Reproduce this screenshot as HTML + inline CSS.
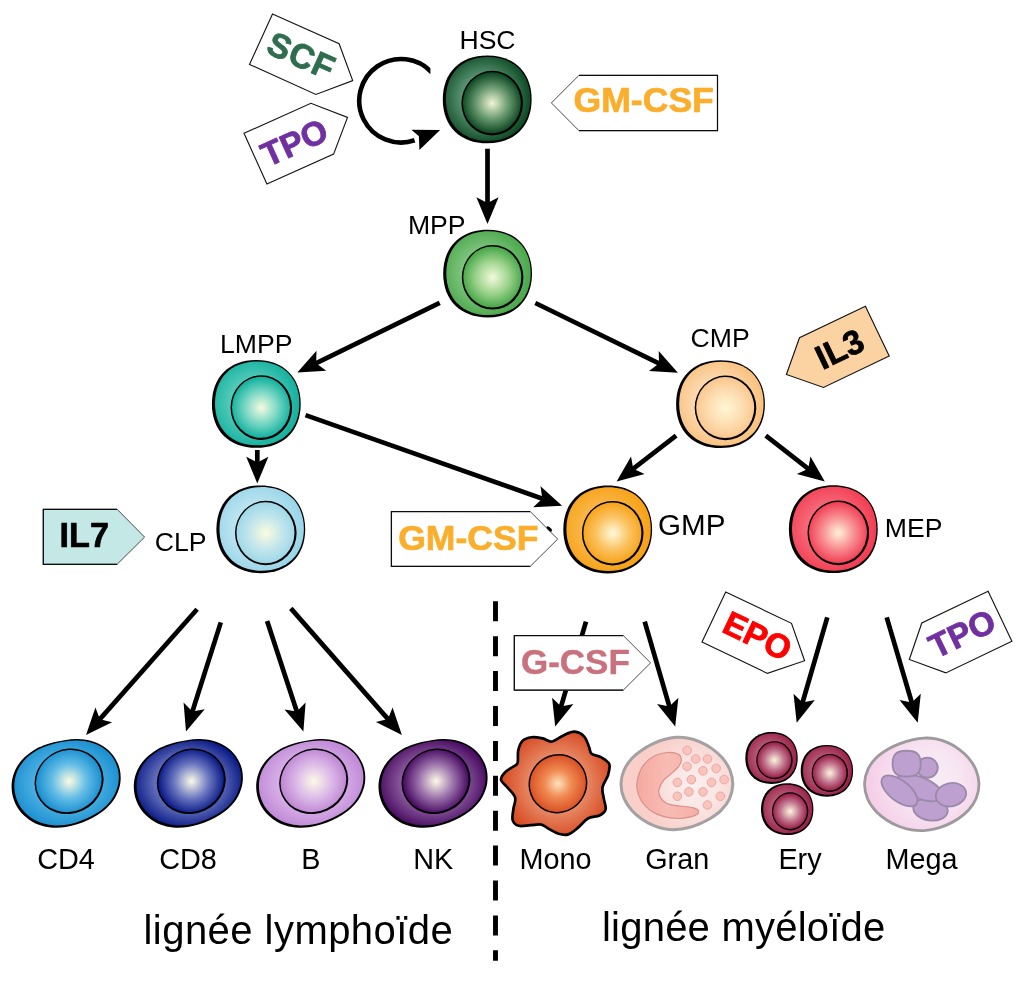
<!DOCTYPE html>
<html><head><meta charset="utf-8"><title>Hematopoiesis</title>
<style>
html,body{margin:0;padding:0;background:#fff;}
svg{display:block;will-change:transform;}
text{font-family:"Liberation Sans",sans-serif;}
</style></head><body>
<svg width="1035" height="982" viewBox="0 0 1035 982">
<defs>
<clipPath id="loopclip"><rect x="340" y="40" width="90.4" height="130"/></clipPath>
<radialGradient id="co1" gradientUnits="userSpaceOnUse" cx="-3" cy="-1.5" r="46"><stop offset="0" stop-color="#629c7c"/><stop offset="0.42" stop-color="#629c7c"/><stop offset="1" stop-color="#0e4a24"/></radialGradient>
<radialGradient id="cn1" gradientUnits="userSpaceOnUse" cx="5" cy="3.7" r="32"><stop offset="0" stop-color="#f0f5d5"/><stop offset="0.5" stop-color="#6a9a70"/><stop offset="0.93" stop-color="#0f4a25"/></radialGradient>
<radialGradient id="co2" gradientUnits="userSpaceOnUse" cx="-3" cy="-1.5" r="46"><stop offset="0" stop-color="#84c784"/><stop offset="0.42" stop-color="#84c784"/><stop offset="1" stop-color="#4aa84a"/></radialGradient>
<radialGradient id="cn2" gradientUnits="userSpaceOnUse" cx="5" cy="3.7" r="32"><stop offset="0" stop-color="#f3fadc"/><stop offset="0.5" stop-color="#9fd48f"/><stop offset="0.93" stop-color="#4aa84a"/></radialGradient>
<radialGradient id="co3" gradientUnits="userSpaceOnUse" cx="-3" cy="-1.5" r="46"><stop offset="0" stop-color="#5ccfbe"/><stop offset="0.42" stop-color="#5ccfbe"/><stop offset="1" stop-color="#14b09e"/></radialGradient>
<radialGradient id="cn3" gradientUnits="userSpaceOnUse" cx="5" cy="3.7" r="32"><stop offset="0" stop-color="#f6fbe0"/><stop offset="0.5" stop-color="#7ad8c4"/><stop offset="0.93" stop-color="#16b2a0"/></radialGradient>
<radialGradient id="co4" gradientUnits="userSpaceOnUse" cx="-3" cy="-1.5" r="46"><stop offset="0" stop-color="#fddcb8"/><stop offset="0.42" stop-color="#fddcb8"/><stop offset="1" stop-color="#f9c07c"/></radialGradient>
<radialGradient id="cn4" gradientUnits="userSpaceOnUse" cx="5" cy="3.7" r="32"><stop offset="0" stop-color="#fff6d4"/><stop offset="0.5" stop-color="#fddfb4"/><stop offset="0.93" stop-color="#fbc890"/></radialGradient>
<radialGradient id="co5" gradientUnits="userSpaceOnUse" cx="-3" cy="-1.5" r="46"><stop offset="0" stop-color="#c2e7f1"/><stop offset="0.42" stop-color="#c2e7f1"/><stop offset="1" stop-color="#98d5e9"/></radialGradient>
<radialGradient id="cn5" gradientUnits="userSpaceOnUse" cx="5" cy="3.7" r="32"><stop offset="0" stop-color="#fbfbde"/><stop offset="0.5" stop-color="#c4e7ec"/><stop offset="0.93" stop-color="#9fd8e8"/></radialGradient>
<radialGradient id="co6" gradientUnits="userSpaceOnUse" cx="-3" cy="-1.5" r="46"><stop offset="0" stop-color="#fbba50"/><stop offset="0.42" stop-color="#fbba50"/><stop offset="1" stop-color="#f6a014"/></radialGradient>
<radialGradient id="cn6" gradientUnits="userSpaceOnUse" cx="5" cy="3.7" r="32"><stop offset="0" stop-color="#fffadc"/><stop offset="0.5" stop-color="#fbc466"/><stop offset="0.93" stop-color="#f7a51c"/></radialGradient>
<radialGradient id="co7" gradientUnits="userSpaceOnUse" cx="-3" cy="-1.5" r="46"><stop offset="0" stop-color="#f7707e"/><stop offset="0.42" stop-color="#f7707e"/><stop offset="1" stop-color="#f23c52"/></radialGradient>
<radialGradient id="cn7" gradientUnits="userSpaceOnUse" cx="5" cy="3.7" r="32"><stop offset="0" stop-color="#fff2da"/><stop offset="0.5" stop-color="#f88e92"/><stop offset="0.93" stop-color="#f24358"/></radialGradient>
<radialGradient id="lo1" gradientUnits="userSpaceOnUse" cx="65.9" cy="783.2" r="56" gradientTransform="translate(65.9 783.2) scale(1 0.82) translate(-65.9 -783.2)"><stop offset="0" stop-color="#4cb0e2"/><stop offset="0.55" stop-color="#4cb0e2"/><stop offset="1" stop-color="#1a8fd0"/></radialGradient>
<radialGradient id="ln1" gradientUnits="userSpaceOnUse" cx="69.1" cy="781.3" r="35"><stop offset="0" stop-color="#fcfce0"/><stop offset="0.5" stop-color="#62bce6"/><stop offset="0.94" stop-color="#1a8fd0"/></radialGradient>
<radialGradient id="lo2" gradientUnits="userSpaceOnUse" cx="188.1" cy="783.2" r="56" gradientTransform="translate(188.1 783.2) scale(1 0.82) translate(-188.1 -783.2)"><stop offset="0" stop-color="#6874be"/><stop offset="0.55" stop-color="#6874be"/><stop offset="1" stop-color="#0a1a86"/></radialGradient>
<radialGradient id="ln2" gradientUnits="userSpaceOnUse" cx="191.3" cy="781.3" r="35"><stop offset="0" stop-color="#fcfce8"/><stop offset="0.5" stop-color="#6a76c0"/><stop offset="0.94" stop-color="#0a1a86"/></radialGradient>
<radialGradient id="lo3" gradientUnits="userSpaceOnUse" cx="310.5" cy="783.2" r="56" gradientTransform="translate(310.5 783.2) scale(1 0.82) translate(-310.5 -783.2)"><stop offset="0" stop-color="#d8b0e8"/><stop offset="0.55" stop-color="#d8b0e8"/><stop offset="1" stop-color="#bf88d6"/></radialGradient>
<radialGradient id="ln3" gradientUnits="userSpaceOnUse" cx="313.7" cy="781.3" r="35"><stop offset="0" stop-color="#fdfae6"/><stop offset="0.5" stop-color="#dcbae8"/><stop offset="0.94" stop-color="#bf86d4"/></radialGradient>
<radialGradient id="lo4" gradientUnits="userSpaceOnUse" cx="432.8" cy="783.2" r="56" gradientTransform="translate(432.8 783.2) scale(1 0.82) translate(-432.8 -783.2)"><stop offset="0" stop-color="#8c5c9e"/><stop offset="0.55" stop-color="#8c5c9e"/><stop offset="1" stop-color="#470a60"/></radialGradient>
<radialGradient id="ln4" gradientUnits="userSpaceOnUse" cx="436" cy="781.3" r="35"><stop offset="0" stop-color="#fdfae8"/><stop offset="0.5" stop-color="#9a70aa"/><stop offset="0.94" stop-color="#470a60"/></radialGradient>
<radialGradient id="mo" gradientUnits="userSpaceOnUse" cx="557.94" cy="783.66" r="56"><stop offset="0" stop-color="#f2a886"/><stop offset="0.5" stop-color="#e88a66"/><stop offset="1" stop-color="#d64a22"/></radialGradient>
<radialGradient id="mn" gradientUnits="userSpaceOnUse" cx="557.94" cy="783.66" r="30"><stop offset="0" stop-color="#fde2bc"/><stop offset="0.45" stop-color="#f08a52"/><stop offset="1" stop-color="#d84c22"/></radialGradient>
<filter id="soft" x="-10%" y="-10%" width="120%" height="120%"><feGaussianBlur stdDeviation="0.55"/></filter>
<radialGradient id="gro" gradientUnits="userSpaceOnUse" cx="694" cy="786" r="52"><stop offset="0" stop-color="#f9f0ef"/><stop offset="0.45" stop-color="#f9e6e4"/><stop offset="1" stop-color="#f9cfca"/></radialGradient>
<linearGradient id="grn" x1="0" y1="0" x2="1" y2="0"><stop offset="0" stop-color="#f5a9a0"/><stop offset="0.5" stop-color="#f8bcb4"/><stop offset="1" stop-color="#f6aea6"/></linearGradient>
<radialGradient id="co8" gradientUnits="userSpaceOnUse" cx="-3" cy="-1.5" r="46"><stop offset="0" stop-color="#b8607a"/><stop offset="0.42" stop-color="#b8607a"/><stop offset="1" stop-color="#9a1f48"/></radialGradient>
<radialGradient id="cn8" gradientUnits="userSpaceOnUse" cx="5" cy="3.7" r="32"><stop offset="0" stop-color="#fdf6e0"/><stop offset="0.5" stop-color="#c27890"/><stop offset="0.93" stop-color="#9a1f48"/></radialGradient>
<radialGradient id="co9" gradientUnits="userSpaceOnUse" cx="-3" cy="-1.5" r="46"><stop offset="0" stop-color="#b8607a"/><stop offset="0.42" stop-color="#b8607a"/><stop offset="1" stop-color="#9a1f48"/></radialGradient>
<radialGradient id="cn9" gradientUnits="userSpaceOnUse" cx="5" cy="3.7" r="32"><stop offset="0" stop-color="#fdf6e0"/><stop offset="0.5" stop-color="#c27890"/><stop offset="0.93" stop-color="#9a1f48"/></radialGradient>
<radialGradient id="co10" gradientUnits="userSpaceOnUse" cx="-3" cy="-1.5" r="46"><stop offset="0" stop-color="#b8607a"/><stop offset="0.42" stop-color="#b8607a"/><stop offset="1" stop-color="#9a1f48"/></radialGradient>
<radialGradient id="cn10" gradientUnits="userSpaceOnUse" cx="5" cy="3.7" r="32"><stop offset="0" stop-color="#fdf6e0"/><stop offset="0.5" stop-color="#c27890"/><stop offset="0.93" stop-color="#9a1f48"/></radialGradient>
<radialGradient id="mgo" gradientUnits="userSpaceOnUse" cx="930" cy="780" r="60"><stop offset="0" stop-color="#f8eef6"/><stop offset="0.5" stop-color="#f7e6f2"/><stop offset="1" stop-color="#f5cfe8"/></radialGradient>
</defs>
<g id="arrows"><line x1="487.5" y1="148.7" x2="487.5" y2="204.1" stroke="#000" stroke-width="4.7"/><polygon points="487.5,224.1 476.4,197.3 487.5,203.1 498.6,197.3" fill="#000"/><line x1="439.7" y1="302.8" x2="315.26" y2="363.71" stroke="#000" stroke-width="4.7"/><polygon points="297.3,372.5 316.49,350.75 316.16,363.27 326.25,370.69" fill="#000"/><line x1="535.3" y1="303" x2="659.93" y2="363.92" stroke="#000" stroke-width="4.7"/><polygon points="677.9,372.7 648.95,370.9 659.03,363.48 658.7,350.96" fill="#000"/><line x1="257.3" y1="450" x2="257.3" y2="463.5" stroke="#000" stroke-width="4.7"/><polygon points="257.3,483.5 246.2,456.7 257.3,462.5 268.4,456.7" fill="#000"/><line x1="305.5" y1="415.1" x2="543.24" y2="499.04" stroke="#000" stroke-width="4.7"/><polygon points="562.1,505.7 533.13,507.24 542.3,498.71 540.52,486.31" fill="#000"/><line x1="676.1" y1="435.7" x2="632.44" y2="469.38" stroke="#000" stroke-width="4.7"/><polygon points="616.6,481.6 631.04,456.44 633.23,468.77 644.6,474.02" fill="#000"/><line x1="765.8" y1="435.7" x2="809.01" y2="469.32" stroke="#000" stroke-width="4.7"/><polygon points="824.8,481.6 796.83,473.9 808.23,468.71 810.46,456.38" fill="#000"/><line x1="197.1" y1="609.3" x2="99.25" y2="719.92" stroke="#000" stroke-width="4.7"/><polygon points="86,734.9 95.44,707.47 99.91,719.17 112.07,722.18" fill="#000"/><line x1="220.8" y1="622.4" x2="192.08" y2="712.45" stroke="#000" stroke-width="4.7"/><polygon points="186,731.5 183.57,702.59 192.38,711.49 204.72,709.34" fill="#000"/><line x1="267.1" y1="620.9" x2="297.16" y2="712.5" stroke="#000" stroke-width="4.7"/><polygon points="303.4,731.5 284.5,709.5 296.85,711.55 305.59,702.57" fill="#000"/><line x1="290.8" y1="608.4" x2="388.7" y2="719.87" stroke="#000" stroke-width="4.7"/><polygon points="401.9,734.9 375.87,722.09 388.04,719.12 392.56,707.44" fill="#000"/><line x1="586" y1="621.7" x2="560.83" y2="707.41" stroke="#000" stroke-width="4.7"/><polygon points="555.2,726.6 552.1,697.76 561.12,706.45 573.4,704.01" fill="#000"/><line x1="644.7" y1="621.7" x2="669.62" y2="707.4" stroke="#000" stroke-width="4.7"/><polygon points="675.2,726.6 657.06,703.96 669.34,706.44 678.38,697.77" fill="#000"/><line x1="827.3" y1="617.3" x2="802.28" y2="703.49" stroke="#000" stroke-width="4.7"/><polygon points="796.7,722.7 793.51,693.87 802.56,702.53 814.83,700.06" fill="#000"/><line x1="886.7" y1="617.3" x2="912.06" y2="703.51" stroke="#000" stroke-width="4.7"/><polygon points="917.7,722.7 899.49,700.12 911.77,702.55 920.79,693.86" fill="#000"/></g>
<path d="M432.1,72.8 A41.8,41.8 0 1 0 414.6,140.3" fill="none" stroke="#000" stroke-width="4.6" clip-path="url(#loopclip)"/>
<polygon points="440.1,130.1 411.4,129.7 418.9,136.2 419.4,150" fill="#000"/>
<line x1="495.5" y1="601.3" x2="495.5" y2="960.7" stroke="#000" stroke-width="4.9" stroke-dasharray="20 14.9"/>
<g id="cells"><g transform="translate(487.2 99.4)"><path d="M0,-43.9 C27.08,-43.9 44.4,-26.78 44.4,0 C44.4,26.78 27.08,43.9 0,43.9 C-27.08,43.9 -44.4,26.78 -44.4,0 C-44.4,-26.78 -27.08,-43.9 0,-43.9Z" fill="#000"/><path d="M0.9,-42.35 C26.64,-42.35 43.1,-26.01 43.1,-0.45 C43.1,25.11 26.64,41.45 0.9,41.45 C-24.84,41.45 -41.3,25.11 -41.3,-0.45 C-41.3,-26.01 -24.84,-42.35 0.9,-42.35Z" fill="url(#co1)"/><ellipse cx="5" cy="3.7" rx="30.8" ry="32.3" fill="#000"/><ellipse cx="4.7" cy="3.4" rx="29" ry="30.5" fill="url(#cn1)"/></g><g transform="translate(487.6 273.6)"><path d="M0,-43.9 C27.08,-43.9 44.4,-26.78 44.4,0 C44.4,26.78 27.08,43.9 0,43.9 C-27.08,43.9 -44.4,26.78 -44.4,0 C-44.4,-26.78 -27.08,-43.9 0,-43.9Z" fill="#000"/><path d="M0.9,-42.35 C26.64,-42.35 43.1,-26.01 43.1,-0.45 C43.1,25.11 26.64,41.45 0.9,41.45 C-24.84,41.45 -41.3,25.11 -41.3,-0.45 C-41.3,-26.01 -24.84,-42.35 0.9,-42.35Z" fill="url(#co2)"/><ellipse cx="5" cy="3.7" rx="30.8" ry="32.3" fill="#000"/><ellipse cx="4.7" cy="3.4" rx="29" ry="30.5" fill="url(#cn2)"/></g><g transform="translate(256.3 403.9)"><path d="M0,-43.9 C27.08,-43.9 44.4,-26.78 44.4,0 C44.4,26.78 27.08,43.9 0,43.9 C-27.08,43.9 -44.4,26.78 -44.4,0 C-44.4,-26.78 -27.08,-43.9 0,-43.9Z" fill="#000"/><path d="M0.9,-42.35 C26.64,-42.35 43.1,-26.01 43.1,-0.45 C43.1,25.11 26.64,41.45 0.9,41.45 C-24.84,41.45 -41.3,25.11 -41.3,-0.45 C-41.3,-26.01 -24.84,-42.35 0.9,-42.35Z" fill="url(#co3)"/><ellipse cx="5" cy="3.7" rx="30.8" ry="32.3" fill="#000"/><ellipse cx="4.7" cy="3.4" rx="29" ry="30.5" fill="url(#cn3)"/></g><g transform="translate(720.5 404.2)"><path d="M0,-43.9 C27.08,-43.9 44.4,-26.78 44.4,0 C44.4,26.78 27.08,43.9 0,43.9 C-27.08,43.9 -44.4,26.78 -44.4,0 C-44.4,-26.78 -27.08,-43.9 0,-43.9Z" fill="#000"/><path d="M0.9,-42.35 C26.64,-42.35 43.1,-26.01 43.1,-0.45 C43.1,25.11 26.64,41.45 0.9,41.45 C-24.84,41.45 -41.3,25.11 -41.3,-0.45 C-41.3,-26.01 -24.84,-42.35 0.9,-42.35Z" fill="url(#co4)"/><ellipse cx="5" cy="3.7" rx="30.8" ry="32.3" fill="#000"/><ellipse cx="4.7" cy="3.4" rx="29" ry="30.5" fill="url(#cn4)"/></g><g transform="translate(260.8 529.3)"><path d="M0,-43.9 C27.08,-43.9 44.4,-26.78 44.4,0 C44.4,26.78 27.08,43.9 0,43.9 C-27.08,43.9 -44.4,26.78 -44.4,0 C-44.4,-26.78 -27.08,-43.9 0,-43.9Z" fill="#000"/><path d="M0.9,-42.35 C26.64,-42.35 43.1,-26.01 43.1,-0.45 C43.1,25.11 26.64,41.45 0.9,41.45 C-24.84,41.45 -41.3,25.11 -41.3,-0.45 C-41.3,-26.01 -24.84,-42.35 0.9,-42.35Z" fill="url(#co5)"/><ellipse cx="5" cy="3.7" rx="30.8" ry="32.3" fill="#000"/><ellipse cx="4.7" cy="3.4" rx="29" ry="30.5" fill="url(#cn5)"/></g><g transform="translate(607.7 529.5)"><path d="M0,-43.9 C27.08,-43.9 44.4,-26.78 44.4,0 C44.4,26.78 27.08,43.9 0,43.9 C-27.08,43.9 -44.4,26.78 -44.4,0 C-44.4,-26.78 -27.08,-43.9 0,-43.9Z" fill="#000"/><path d="M0.9,-42.35 C26.64,-42.35 43.1,-26.01 43.1,-0.45 C43.1,25.11 26.64,41.45 0.9,41.45 C-24.84,41.45 -41.3,25.11 -41.3,-0.45 C-41.3,-26.01 -24.84,-42.35 0.9,-42.35Z" fill="url(#co6)"/><ellipse cx="5" cy="3.7" rx="30.8" ry="32.3" fill="#000"/><ellipse cx="4.7" cy="3.4" rx="29" ry="30.5" fill="url(#cn6)"/></g><g transform="translate(833.3 529.2)"><path d="M0,-43.9 C27.08,-43.9 44.4,-26.78 44.4,0 C44.4,26.78 27.08,43.9 0,43.9 C-27.08,43.9 -44.4,26.78 -44.4,0 C-44.4,-26.78 -27.08,-43.9 0,-43.9Z" fill="#000"/><path d="M0.9,-42.35 C26.64,-42.35 43.1,-26.01 43.1,-0.45 C43.1,25.11 26.64,41.45 0.9,41.45 C-24.84,41.45 -41.3,25.11 -41.3,-0.45 C-41.3,-26.01 -24.84,-42.35 0.9,-42.35Z" fill="url(#co7)"/><ellipse cx="5" cy="3.7" rx="30.8" ry="32.3" fill="#000"/><ellipse cx="4.7" cy="3.4" rx="29" ry="30.5" fill="url(#cn7)"/></g></g>
<g id="labels"><text x="487.5" y="48.8" font-size="26.6" font-weight="normal" fill="#000" text-anchor="middle" >HSC</text><text x="436.75" y="233.8" font-size="26.6" font-weight="normal" fill="#000" text-anchor="middle" >MPP</text><text x="256.3" y="352.9" font-size="26.6" font-weight="normal" fill="#000" text-anchor="middle" >LMPP</text><text x="720.1" y="346.7" font-size="26.6" font-weight="normal" fill="#000" text-anchor="middle" >CMP</text><text x="180.7" y="550.6" font-size="26.6" font-weight="normal" fill="#000" text-anchor="middle" >CLP</text><text x="691.8" y="535.4" font-size="29.6" font-weight="normal" fill="#000" text-anchor="middle" >GMP</text><text x="913.6" y="537" font-size="26.6" font-weight="normal" fill="#000" text-anchor="middle" >MEP</text><text x="66" y="869.2" font-size="28.8" font-weight="normal" fill="#000" text-anchor="middle" >CD4</text><text x="188" y="869.2" font-size="28.8" font-weight="normal" fill="#000" text-anchor="middle" >CD8</text><text x="310.9" y="869.2" font-size="28.8" font-weight="normal" fill="#000" text-anchor="middle" >B</text><text x="433.35" y="869.2" font-size="28.8" font-weight="normal" fill="#000" text-anchor="middle" >NK</text><text x="555.55" y="869.2" font-size="28.8" font-weight="normal" fill="#000" text-anchor="middle" >Mono</text><text x="677.2" y="869.2" font-size="28.8" font-weight="normal" fill="#000" text-anchor="middle" >Gran</text><text x="800" y="869.2" font-size="28.8" font-weight="normal" fill="#000" text-anchor="middle" >Ery</text><text x="921.55" y="869.2" font-size="28.8" font-weight="normal" fill="#000" text-anchor="middle" >Mega</text><text x="143.5" y="943.6" font-size="40" font-weight="normal" fill="#000" text-anchor="start" textLength="309.3" lengthAdjust="spacing">lignée lymphoïde</text><text x="602" y="941.4" font-size="40" font-weight="normal" fill="#000" text-anchor="start" textLength="283.3" lengthAdjust="spacing">lignée myéloïde</text></g>
<g id="tags"><polygon points="551.4,102.9 578.9,75.4 717.5,75.4 717.5,130.6 578.9,130.6" fill="#fff" stroke="#4a4a4a" stroke-width="1"/><polyline points="578.9,75.4 717.5,75.4 717.5,130.6 578.9,130.6" fill="none" stroke="#0c0c0c" stroke-width="1.25" stroke-linejoin="miter"/><text x="643.7" y="112.3" font-size="35.6" font-weight="bold" fill="#fbae2c" text-anchor="middle" stroke="#fbae2c" stroke-width="0.7" stroke-linejoin="round" >GM-CSF</text><polygon points="391.4,511.5 530.2,511.5 557.7,539.1 530.2,566.4 391.4,566.4" fill="#fff" stroke="#4a4a4a" stroke-width="1"/><polyline points="530.2,511.5 391.4,511.5 391.4,566.4 530.2,566.4" fill="none" stroke="#0c0c0c" stroke-width="1.25" stroke-linejoin="miter"/><ellipse cx="549.3" cy="528.9" rx="3.4" ry="1.5" transform="rotate(45 549.3 528.9)" fill="#000"/><text x="468.3" y="550.4" font-size="35.6" font-weight="bold" fill="#fbae2c" text-anchor="middle" stroke="#fbae2c" stroke-width="0.7" stroke-linejoin="round" >GM-CSF</text><polygon points="43.3,509.3 117.1,509.3 144.6,537.1 117.1,564.3 43.3,564.3" fill="#c3e8e6" stroke="#4a4a4a" stroke-width="1"/><polyline points="117.1,509.3 43.3,509.3 43.3,564.3 117.1,564.3" fill="none" stroke="#0c0c0c" stroke-width="1.25" stroke-linejoin="miter"/><text x="84.3" y="547.3" font-size="34.2" font-weight="bold" fill="#000" text-anchor="middle" stroke="#000" stroke-width="0.7" stroke-linejoin="round" >IL7</text><polygon points="514.3,635.5 623.2,635.5 650.6,662.9 623.2,690.2 514.3,690.2" fill="#fff" stroke="#4a4a4a" stroke-width="1"/><polyline points="623.2,635.5 514.3,635.5 514.3,690.2 623.2,690.2" fill="none" stroke="#0c0c0c" stroke-width="1.25" stroke-linejoin="miter"/><text x="575.4" y="673.7" font-size="35" font-weight="bold" fill="#c9717d" text-anchor="middle" stroke="#c9717d" stroke-width="0.4" stroke-linejoin="round" >G-CSF</text><polygon points="272.5,14 339.1,43.8 352.7,80.6 315.9,94.5 249.5,64.4" fill="#fff" stroke="#161616" stroke-width="1.15"/><g transform="translate(301.6,55.4) rotate(24.1)"><text x="0" y="12.2" font-size="34" font-weight="bold" fill="#2e6e4e" text-anchor="middle" stroke="#2e6e4e" stroke-width="0.8" stroke-linejoin="round" letter-spacing="0.8">SCF</text></g><polygon points="244,133.3 310.9,103.3 347.5,117.4 333.6,154.1 266.9,184" fill="#fff" stroke="#161616" stroke-width="1.15"/><g transform="translate(294.1,142) rotate(-24.4)"><text x="0" y="12.2" font-size="33.6" font-weight="bold" fill="#7030a0" text-anchor="middle" stroke="#7030a0" stroke-width="0.8" stroke-linejoin="round" >TPO</text></g><polygon points="786.4,374.5 799.5,337.7 865.4,306.3 889.2,356 823.5,387.5" fill="#fbd3a3" stroke="#161616" stroke-width="1.15"/><g transform="translate(839.3,348.6) rotate(-25.5)"><text x="0" y="12.2" font-size="34" font-weight="bold" fill="#000" text-anchor="middle" stroke="#000" stroke-width="0.7" stroke-linejoin="round" >IL3</text></g><polygon points="725.7,592 791.5,623.3 804.6,660.7 767.5,673.4 702,642.1" fill="#fff" stroke="#161616" stroke-width="1.15"/><g transform="translate(757.7,635.5) rotate(25.4)"><text x="0" y="12.2" font-size="33.6" font-weight="bold" fill="#ff0000" text-anchor="middle" stroke="#ff0000" stroke-width="0.8" stroke-linejoin="round" >EPO</text></g><polygon points="909.3,659.5 921.8,623 988.1,591.3 1011.9,641.2 945.8,672.9" fill="#fff" stroke="#161616" stroke-width="1.15"/><g transform="translate(961.8,633) rotate(-25.6)"><text x="0" y="12.2" font-size="33.6" font-weight="bold" fill="#7030a0" text-anchor="middle" stroke="#7030a0" stroke-width="0.8" stroke-linejoin="round" >TPO</text></g></g>
<g id="bottom"><path d="M120.3,783.2 C119.64,787.78 117.85,792.47 115.74,796.45 C113.63,800.44 110.62,804.03 107.64,807.1 C104.65,810.16 101.15,812.62 97.81,814.83 C94.47,817.03 91.04,818.76 87.58,820.35 C84.12,821.94 80.66,823.26 77.04,824.36 C73.43,825.47 69.77,826.41 65.9,826.97 C62.03,827.54 57.96,828.01 53.85,827.78 C49.73,827.54 45.3,826.92 41.18,825.57 C37.06,824.21 32.81,822.24 29.13,819.65 C25.45,817.05 21.78,813.74 19.1,810.01 C16.41,806.28 14.25,801.72 13.02,797.26 C11.79,792.79 11.32,787.78 11.7,783.2 C12.09,778.62 13.46,773.83 15.35,769.75 C17.24,765.66 20.1,761.88 23.05,758.7 C26,755.52 29.6,752.9 33.08,750.67 C36.56,748.44 40.3,746.79 43.92,745.35 C47.53,743.91 51.09,742.94 54.76,742.04 C58.42,741.13 62.05,740.41 65.9,739.93 C69.75,739.44 73.73,738.97 77.85,739.12 C81.97,739.28 86.4,739.64 90.62,740.83 C94.84,742.02 99.35,743.74 103.18,746.25 C107.01,748.76 110.86,752.11 113.61,755.89 C116.36,759.67 118.58,764.39 119.69,768.94 C120.8,773.49 120.96,778.62 120.3,783.2Z" fill="#000"/><path d="M118.46,782.75 C117.83,787.14 116.12,791.63 114.1,795.45 C112.07,799.26 109.2,802.71 106.33,805.64 C103.47,808.58 100.12,810.93 96.92,813.05 C93.72,815.16 90.43,816.81 87.12,818.34 C83.8,819.86 80.49,821.13 77.02,822.19 C73.56,823.24 70.05,824.14 66.35,824.69 C62.65,825.23 58.75,825.68 54.8,825.46 C50.86,825.23 46.62,824.64 42.67,823.34 C38.72,822.04 34.65,820.15 31.12,817.66 C27.6,815.18 24.09,812.01 21.52,808.43 C18.94,804.86 16.87,800.5 15.69,796.22 C14.51,791.94 14.06,787.14 14.43,782.75 C14.8,778.36 16.11,773.77 17.92,769.86 C19.74,765.95 22.47,762.33 25.3,759.28 C28.13,756.24 31.58,753.72 34.91,751.59 C38.24,749.45 41.83,747.87 45.29,746.49 C48.75,745.11 52.17,744.18 55.68,743.31 C59.18,742.45 62.66,741.76 66.35,741.3 C70.04,740.83 73.85,740.38 77.8,740.53 C81.75,740.67 85.99,741.02 90.03,742.16 C94.07,743.3 98.39,744.95 102.06,747.35 C105.73,749.76 109.42,752.97 112.06,756.59 C114.69,760.21 116.81,764.73 117.88,769.09 C118.95,773.45 119.09,778.36 118.46,782.75Z" fill="url(#lo1)"/><ellipse cx="69.1" cy="781.3" rx="35" ry="32.3" transform="rotate(-25 69.1 781.3)" fill="#000"/><ellipse cx="68.85" cy="781.05" rx="33.3" ry="30.6" transform="rotate(-25 68.85 781.05)" fill="url(#ln1)"/><path d="M242.5,783.2 C241.84,787.78 240.05,792.47 237.94,796.45 C235.83,800.44 232.82,804.03 229.84,807.1 C226.85,810.16 223.35,812.62 220.01,814.83 C216.67,817.03 213.24,818.76 209.78,820.35 C206.32,821.94 202.86,823.26 199.24,824.36 C195.63,825.47 191.97,826.41 188.1,826.97 C184.23,827.54 180.16,828.01 176.05,827.78 C171.93,827.54 167.5,826.92 163.38,825.57 C159.26,824.21 155.01,822.24 151.33,819.65 C147.65,817.05 143.98,813.74 141.3,810.01 C138.61,806.28 136.45,801.72 135.22,797.26 C133.99,792.79 133.52,787.78 133.9,783.2 C134.29,778.62 135.66,773.83 137.55,769.75 C139.44,765.66 142.3,761.88 145.25,758.7 C148.2,755.52 151.8,752.9 155.28,750.67 C158.76,748.44 162.5,746.79 166.12,745.35 C169.73,743.91 173.29,742.94 176.96,742.04 C180.62,741.13 184.25,740.41 188.1,739.93 C191.95,739.44 195.93,738.97 200.05,739.12 C204.17,739.28 208.6,739.64 212.82,740.83 C217.04,742.02 221.55,743.74 225.38,746.25 C229.21,748.76 233.06,752.11 235.81,755.89 C238.56,759.67 240.78,764.39 241.89,768.94 C243,773.49 243.16,778.62 242.5,783.2Z" fill="#000"/><path d="M240.66,782.75 C240.03,787.14 238.32,791.63 236.3,795.45 C234.27,799.26 231.4,802.71 228.53,805.64 C225.67,808.58 222.32,810.93 219.12,813.05 C215.92,815.16 212.63,816.81 209.32,818.34 C206,819.86 202.69,821.13 199.22,822.19 C195.76,823.24 192.25,824.14 188.55,824.69 C184.85,825.23 180.95,825.68 177,825.46 C173.06,825.23 168.82,824.64 164.87,823.34 C160.92,822.04 156.85,820.15 153.32,817.66 C149.8,815.18 146.29,812.01 143.72,808.43 C141.14,804.86 139.07,800.5 137.89,796.22 C136.71,791.94 136.26,787.14 136.63,782.75 C137,778.36 138.31,773.77 140.12,769.86 C141.94,765.95 144.67,762.33 147.5,759.28 C150.33,756.24 153.78,753.72 157.11,751.59 C160.44,749.45 164.03,747.87 167.49,746.49 C170.95,745.11 174.37,744.18 177.88,743.31 C181.38,742.45 184.86,741.76 188.55,741.3 C192.24,740.83 196.05,740.38 200,740.53 C203.95,740.67 208.19,741.02 212.23,742.16 C216.27,743.3 220.59,744.95 224.26,747.35 C227.93,749.76 231.62,752.97 234.26,756.59 C236.89,760.21 239.01,764.73 240.08,769.09 C241.15,773.45 241.29,778.36 240.66,782.75Z" fill="url(#lo2)"/><ellipse cx="191.3" cy="781.3" rx="35" ry="32.3" transform="rotate(-25 191.3 781.3)" fill="#000"/><ellipse cx="191.05" cy="781.05" rx="33.3" ry="30.6" transform="rotate(-25 191.05 781.05)" fill="url(#ln2)"/><path d="M364.9,783.2 C364.24,787.78 362.45,792.47 360.34,796.45 C358.23,800.44 355.22,804.03 352.24,807.1 C349.25,810.16 345.75,812.62 342.41,814.83 C339.07,817.03 335.64,818.76 332.18,820.35 C328.72,821.94 325.26,823.26 321.64,824.36 C318.03,825.47 314.37,826.41 310.5,826.97 C306.63,827.54 302.56,828.01 298.45,827.78 C294.33,827.54 289.9,826.92 285.78,825.57 C281.66,824.21 277.41,822.24 273.73,819.65 C270.05,817.05 266.38,813.74 263.7,810.01 C261.01,806.28 258.85,801.72 257.62,797.26 C256.39,792.79 255.92,787.78 256.3,783.2 C256.69,778.62 258.06,773.83 259.95,769.75 C261.84,765.66 264.7,761.88 267.65,758.7 C270.6,755.52 274.2,752.9 277.68,750.67 C281.16,748.44 284.9,746.79 288.52,745.35 C292.13,743.91 295.69,742.94 299.36,742.04 C303.02,741.13 306.65,740.41 310.5,739.93 C314.35,739.44 318.33,738.97 322.45,739.12 C326.57,739.28 331,739.64 335.22,740.83 C339.44,742.02 343.95,743.74 347.78,746.25 C351.61,748.76 355.46,752.11 358.21,755.89 C360.96,759.67 363.18,764.39 364.29,768.94 C365.4,773.49 365.56,778.62 364.9,783.2Z" fill="#000"/><path d="M363.06,782.75 C362.43,787.14 360.72,791.63 358.7,795.45 C356.67,799.26 353.8,802.71 350.93,805.64 C348.07,808.58 344.72,810.93 341.52,813.05 C338.32,815.16 335.03,816.81 331.72,818.34 C328.4,819.86 325.09,821.13 321.62,822.19 C318.16,823.24 314.65,824.14 310.95,824.69 C307.25,825.23 303.35,825.68 299.4,825.46 C295.46,825.23 291.22,824.64 287.27,823.34 C283.32,822.04 279.25,820.15 275.72,817.66 C272.2,815.18 268.69,812.01 266.12,808.43 C263.54,804.86 261.47,800.5 260.29,796.22 C259.11,791.94 258.66,787.14 259.03,782.75 C259.4,778.36 260.71,773.77 262.52,769.86 C264.34,765.95 267.07,762.33 269.9,759.28 C272.73,756.24 276.18,753.72 279.51,751.59 C282.84,749.45 286.43,747.87 289.89,746.49 C293.35,745.11 296.77,744.18 300.28,743.31 C303.78,742.45 307.26,741.76 310.95,741.3 C314.64,740.83 318.45,740.38 322.4,740.53 C326.35,740.67 330.59,741.02 334.63,742.16 C338.67,743.3 342.99,744.95 346.66,747.35 C350.33,749.76 354.02,752.97 356.66,756.59 C359.29,760.21 361.41,764.73 362.48,769.09 C363.55,773.45 363.69,778.36 363.06,782.75Z" fill="url(#lo3)"/><ellipse cx="313.7" cy="781.3" rx="35" ry="32.3" transform="rotate(-25 313.7 781.3)" fill="#000"/><ellipse cx="313.45" cy="781.05" rx="33.3" ry="30.6" transform="rotate(-25 313.45 781.05)" fill="url(#ln3)"/><path d="M487.2,783.2 C486.54,787.78 484.75,792.47 482.64,796.45 C480.53,800.44 477.52,804.03 474.54,807.1 C471.55,810.16 468.05,812.62 464.71,814.83 C461.37,817.03 457.94,818.76 454.48,820.35 C451.02,821.94 447.56,823.26 443.94,824.36 C440.33,825.47 436.67,826.41 432.8,826.97 C428.93,827.54 424.86,828.01 420.75,827.78 C416.63,827.54 412.2,826.92 408.08,825.57 C403.96,824.21 399.71,822.24 396.03,819.65 C392.35,817.05 388.68,813.74 386,810.01 C383.31,806.28 381.15,801.72 379.92,797.26 C378.69,792.79 378.22,787.78 378.6,783.2 C378.99,778.62 380.36,773.83 382.25,769.75 C384.14,765.66 387,761.88 389.95,758.7 C392.9,755.52 396.5,752.9 399.98,750.67 C403.46,748.44 407.2,746.79 410.82,745.35 C414.43,743.91 417.99,742.94 421.66,742.04 C425.32,741.13 428.95,740.41 432.8,739.93 C436.65,739.44 440.63,738.97 444.75,739.12 C448.87,739.28 453.3,739.64 457.52,740.83 C461.74,742.02 466.25,743.74 470.08,746.25 C473.91,748.76 477.76,752.11 480.51,755.89 C483.26,759.67 485.48,764.39 486.59,768.94 C487.7,773.49 487.86,778.62 487.2,783.2Z" fill="#000"/><path d="M485.36,782.75 C484.73,787.14 483.02,791.63 481,795.45 C478.97,799.26 476.1,802.71 473.23,805.64 C470.37,808.58 467.02,810.93 463.82,813.05 C460.62,815.16 457.33,816.81 454.02,818.34 C450.7,819.86 447.39,821.13 443.92,822.19 C440.46,823.24 436.95,824.14 433.25,824.69 C429.55,825.23 425.65,825.68 421.7,825.46 C417.76,825.23 413.52,824.64 409.57,823.34 C405.62,822.04 401.55,820.15 398.02,817.66 C394.5,815.18 390.99,812.01 388.42,808.43 C385.84,804.86 383.77,800.5 382.59,796.22 C381.41,791.94 380.96,787.14 381.33,782.75 C381.7,778.36 383.01,773.77 384.82,769.86 C386.64,765.95 389.37,762.33 392.2,759.28 C395.03,756.24 398.48,753.72 401.81,751.59 C405.14,749.45 408.73,747.87 412.19,746.49 C415.65,745.11 419.07,744.18 422.58,743.31 C426.08,742.45 429.56,741.76 433.25,741.3 C436.94,740.83 440.75,740.38 444.7,740.53 C448.65,740.67 452.89,741.02 456.93,742.16 C460.97,743.3 465.29,744.95 468.96,747.35 C472.63,749.76 476.32,752.97 478.96,756.59 C481.59,760.21 483.71,764.73 484.78,769.09 C485.85,773.45 485.99,778.36 485.36,782.75Z" fill="url(#lo4)"/><ellipse cx="436" cy="781.3" rx="35" ry="32.3" transform="rotate(-25 436 781.3)" fill="#000"/><ellipse cx="435.75" cy="781.05" rx="33.3" ry="30.6" transform="rotate(-25 435.75 781.05)" fill="url(#ln4)"/><path d="M531.66,737.22 C535.02,736.81 539.3,737.73 542.66,738.44 C546.02,739.16 548.36,742.01 551.83,741.5 C555.29,740.99 559.67,737.02 563.43,735.39 C567.2,733.76 570.97,731.52 574.43,731.72 C577.9,731.92 581.77,734.06 584.21,736.61 C586.65,739.16 587.88,744.15 589.1,747 C590.32,749.85 589.5,751.99 591.54,753.72 C593.58,755.45 598.36,755.65 601.32,757.38 C604.27,759.12 608.14,761.15 609.26,764.11 C610.38,767.06 609.16,771.23 608.04,775.1 C606.92,778.97 603.25,783.45 602.54,787.32 C601.83,791.19 603.25,794.66 603.76,798.32 C604.27,801.99 606.31,806.47 605.6,809.32 C604.88,812.17 602.44,813.9 599.48,815.43 C596.53,816.96 591.44,816.45 587.88,818.49 C584.31,820.52 581.36,825 578.1,827.65 C574.84,830.3 571.58,833.35 568.32,834.37 C565.06,835.39 561.81,834.68 558.55,833.76 C555.29,832.85 551.62,830.4 548.77,828.87 C545.92,827.35 544.49,825.21 541.44,824.6 C538.38,823.99 534.21,825 530.44,825.21 C526.67,825.41 521.78,826.63 518.83,825.82 C515.88,825 513.64,823.07 512.72,820.32 C511.8,817.57 512.92,813.09 513.33,809.32 C513.74,805.55 515.98,801.17 515.16,797.71 C514.35,794.25 510.78,791.5 508.44,788.55 C506.1,785.59 501.72,782.64 501.11,779.99 C500.5,777.34 502.74,774.9 504.78,772.66 C506.81,770.42 511.19,768.18 513.33,766.55 C515.47,764.92 516.79,765.53 517.61,762.88 C518.42,760.24 517.4,754.33 518.22,750.66 C519.03,747 520.26,743.13 522.5,740.89 C524.74,738.65 528.3,737.63 531.66,737.22Z" fill="url(#mo)" stroke="#000" stroke-width="2.7" stroke-linejoin="round"/><ellipse cx="557.94" cy="783.66" rx="28.3" ry="29.3" transform="rotate(35 557.94 783.66)" fill="url(#mn)" stroke="#000" stroke-width="1.5"/><g filter="url(#soft)"><path d="M732.8,784.48 C732.72,789.27 731.42,794.45 729.46,798.78 C727.49,803.1 724.25,807.12 721.04,810.42 C717.82,813.72 713.87,816.3 710.19,818.57 C706.51,820.85 702.7,822.53 698.96,824.07 C695.21,825.61 691.53,826.9 687.72,827.82 C683.9,828.75 680.01,829.46 676.09,829.62 C672.18,829.78 668.14,829.51 664.23,828.76 C660.32,828.01 656.4,826.75 652.63,825.11 C648.87,823.47 645.14,821.43 641.64,818.94 C638.14,816.45 634.57,813.57 631.63,810.15 C628.69,806.74 625.78,802.71 624.01,798.44 C622.23,794.16 621.03,789.14 621,784.48 C620.97,779.82 622.08,774.76 623.85,770.48 C625.61,766.19 628.59,762.16 631.58,758.77 C634.57,755.39 638.26,752.64 641.78,750.17 C645.31,747.7 649,745.74 652.71,743.96 C656.42,742.19 660.15,740.64 664.05,739.54 C667.94,738.44 672.02,737.57 676.09,737.34 C680.17,737.11 684.43,737.39 688.51,738.17 C692.59,738.96 696.67,740.32 700.58,742.06 C704.49,743.79 708.36,745.97 711.97,748.59 C715.58,751.22 719.25,754.26 722.25,757.83 C725.24,761.41 728.2,765.6 729.96,770.04 C731.72,774.48 732.89,779.69 732.8,784.48Z" fill="url(#gro)" stroke="#a3a1a1" stroke-width="3"/><path d="M678.54,754.33 C676.24,753 671.41,752.29 667.54,752.49 C663.67,752.7 659.19,753.61 655.32,755.55 C651.45,757.48 647.18,760.64 644.33,764.1 C641.47,767.56 639.44,772.25 638.22,776.32 C636.99,780.39 636.49,784.47 636.99,788.54 C637.5,792.61 639.03,797.09 641.27,800.76 C643.51,804.42 646.67,807.89 650.43,810.53 C654.2,813.18 659.19,815.32 663.88,816.64 C668.56,817.97 674.06,818.43 678.54,818.48 C683.02,818.52 687.6,817.64 690.76,816.89 C693.91,816.13 696.22,815.01 697.48,813.95 C698.74,812.9 698.84,811.51 698.33,810.53 C697.82,809.56 696.5,808.74 694.42,808.09 C692.35,807.44 688.92,807.03 685.87,806.62 C682.82,806.22 679.35,806.22 676.09,805.65 C672.84,805.07 668.97,804.63 666.32,803.2 C663.67,801.78 661.43,799.33 660.21,797.09 C658.99,794.85 658.38,792.61 658.99,789.76 C659.6,786.91 661.64,782.84 663.88,779.99 C666.12,777.13 669.99,774.89 672.43,772.65 C674.87,770.41 677.05,768.58 678.54,766.54 C680.03,764.51 681.35,762.47 681.35,760.43 C681.35,758.4 680.84,755.65 678.54,754.33Z" fill="url(#grn)" stroke="#d8908c" stroke-width="1.2" stroke-linejoin="round"/><circle cx="687.09" cy="750.42" r="4.3" fill="#fac3bb" stroke="#eaa8a2" stroke-width="1"/><circle cx="695.65" cy="758.97" r="4.3" fill="#fac3bb" stroke="#eaa8a2" stroke-width="1"/><circle cx="707.5" cy="758.97" r="4.3" fill="#fac3bb" stroke="#eaa8a2" stroke-width="1"/><circle cx="687.09" cy="766.54" r="4.3" fill="#fac3bb" stroke="#eaa8a2" stroke-width="1"/><circle cx="702.98" cy="770.82" r="4.3" fill="#fac3bb" stroke="#eaa8a2" stroke-width="1"/><circle cx="716.17" cy="768.38" r="4.3" fill="#fac3bb" stroke="#eaa8a2" stroke-width="1"/><circle cx="677.32" cy="782.43" r="4.3" fill="#fac3bb" stroke="#eaa8a2" stroke-width="1"/><circle cx="691.37" cy="779.62" r="4.3" fill="#fac3bb" stroke="#eaa8a2" stroke-width="1"/><circle cx="711.53" cy="782.43" r="4.3" fill="#fac3bb" stroke="#eaa8a2" stroke-width="1"/><circle cx="724.12" cy="779.62" r="4.3" fill="#fac3bb" stroke="#eaa8a2" stroke-width="1"/><circle cx="677.32" cy="796.24" r="4.3" fill="#fac3bb" stroke="#eaa8a2" stroke-width="1"/><circle cx="688.92" cy="791.84" r="4.3" fill="#fac3bb" stroke="#eaa8a2" stroke-width="1"/><circle cx="702.98" cy="791.84" r="4.3" fill="#fac3bb" stroke="#eaa8a2" stroke-width="1"/><circle cx="720.33" cy="796.24" r="4.3" fill="#fac3bb" stroke="#eaa8a2" stroke-width="1"/><circle cx="707.5" cy="805.03" r="4.3" fill="#fac3bb" stroke="#eaa8a2" stroke-width="1"/></g><g transform="translate(771.5 758) scale(0.59)"><path d="M0,-43.9 C27.08,-43.9 44.4,-26.78 44.4,0 C44.4,26.78 27.08,43.9 0,43.9 C-27.08,43.9 -44.4,26.78 -44.4,0 C-44.4,-26.78 -27.08,-43.9 0,-43.9Z" fill="#000"/><path d="M0.9,-41.65 C26.21,-41.65 42.4,-25.58 42.4,-0.45 C42.4,24.68 26.21,40.75 0.9,40.75 C-24.41,40.75 -40.6,24.68 -40.6,-0.45 C-40.6,-25.58 -24.41,-41.65 0.9,-41.65Z" fill="url(#co8)"/><ellipse cx="5" cy="3.7" rx="30.8" ry="32.3" fill="#000"/><ellipse cx="4.7" cy="3.4" rx="28.58" ry="30.08" fill="url(#cn8)"/></g><g transform="translate(826.9 770.8) scale(0.59)"><path d="M0,-43.9 C27.08,-43.9 44.4,-26.78 44.4,0 C44.4,26.78 27.08,43.9 0,43.9 C-27.08,43.9 -44.4,26.78 -44.4,0 C-44.4,-26.78 -27.08,-43.9 0,-43.9Z" fill="#000"/><path d="M0.9,-41.65 C26.21,-41.65 42.4,-25.58 42.4,-0.45 C42.4,24.68 26.21,40.75 0.9,40.75 C-24.41,40.75 -40.6,24.68 -40.6,-0.45 C-40.6,-25.58 -24.41,-41.65 0.9,-41.65Z" fill="url(#co9)"/><ellipse cx="5" cy="3.7" rx="30.8" ry="32.3" fill="#000"/><ellipse cx="4.7" cy="3.4" rx="28.58" ry="30.08" fill="url(#cn9)"/></g><g transform="translate(787.2 809.2) scale(0.59)"><path d="M0,-43.9 C27.08,-43.9 44.4,-26.78 44.4,0 C44.4,26.78 27.08,43.9 0,43.9 C-27.08,43.9 -44.4,26.78 -44.4,0 C-44.4,-26.78 -27.08,-43.9 0,-43.9Z" fill="#000"/><path d="M0.9,-41.65 C26.21,-41.65 42.4,-25.58 42.4,-0.45 C42.4,24.68 26.21,40.75 0.9,40.75 C-24.41,40.75 -40.6,24.68 -40.6,-0.45 C-40.6,-25.58 -24.41,-41.65 0.9,-41.65Z" fill="url(#co10)"/><ellipse cx="5" cy="3.7" rx="30.8" ry="32.3" fill="#000"/><ellipse cx="4.7" cy="3.4" rx="28.58" ry="30.08" fill="url(#cn10)"/></g><g filter="url(#soft)"><path d="M978.98,783.87 C979.03,788.53 978.02,793.59 976.32,797.9 C974.62,802.22 971.75,806.32 968.8,809.76 C965.84,813.19 962.14,816.03 958.58,818.5 C955.03,820.97 951.25,822.9 947.48,824.6 C943.71,826.3 939.88,827.7 935.96,828.7 C932.04,829.7 928.01,830.42 923.95,830.62 C919.9,830.82 915.73,830.6 911.62,829.92 C907.52,829.23 903.38,828.09 899.32,826.53 C895.27,824.96 891.17,823.03 887.3,820.52 C883.44,818.01 879.41,815.07 876.14,811.48 C872.87,807.88 869.61,803.56 867.67,798.96 C865.74,794.35 864.46,788.88 864.53,783.87 C864.61,778.86 866.01,773.41 868.12,768.91 C870.23,764.41 873.75,760.24 877.19,756.87 C880.63,753.5 884.88,750.94 888.77,748.69 C892.67,746.44 896.68,744.86 900.58,743.38 C904.48,741.9 908.25,740.7 912.15,739.81 C916.04,738.92 919.98,738.21 923.95,738.05 C927.93,737.9 932.04,738.12 936.01,738.88 C939.98,739.64 943.98,740.92 947.78,742.61 C951.58,744.3 955.34,746.44 958.81,749.02 C962.29,751.59 965.76,754.59 968.63,758.07 C971.5,761.56 974.29,765.62 976.02,769.92 C977.74,774.22 978.93,779.21 978.98,783.87Z" fill="url(#mgo)" stroke="#9d9a9d" stroke-width="2.8"/><ellipse cx="930.47" cy="809.41" rx="17.33" ry="11.05" transform="rotate(8 930.47 809.41)" fill="#bda0d0" stroke="#9a89a8" stroke-width="1.8"/><ellipse cx="927.33" cy="767.71" rx="10.43" ry="10.05" transform="rotate(0 927.33 767.71)" fill="#bda0d0" stroke="#9a89a8" stroke-width="1.8"/><ellipse cx="919.55" cy="787.8" rx="24.49" ry="10.68" transform="rotate(22 919.55 787.8)" fill="#bda0d0" stroke="#9a89a8" stroke-width="1.8"/><path d="M906.61,750.75 C916.74,750.75 920.68,754.37 920.68,763.69 C920.68,773 916.74,776.62 906.61,776.62 C896.48,776.62 892.54,773 892.54,763.69 C892.54,754.37 896.48,750.75 906.61,750.75Z" fill="#bda0d0" stroke="#9a89a8" stroke-width="1.8"/><ellipse cx="899.45" cy="790.94" rx="21.35" ry="10.3" transform="rotate(38 899.45 790.94)" fill="#bda0d0" stroke="#9a89a8" stroke-width="1.8"/><ellipse cx="950.95" cy="794.71" rx="15.32" ry="11.56" transform="rotate(-12 950.95 794.71)" fill="#bda0d0" stroke="#9a89a8" stroke-width="1.8"/></g></g>
</svg>
</body></html>
